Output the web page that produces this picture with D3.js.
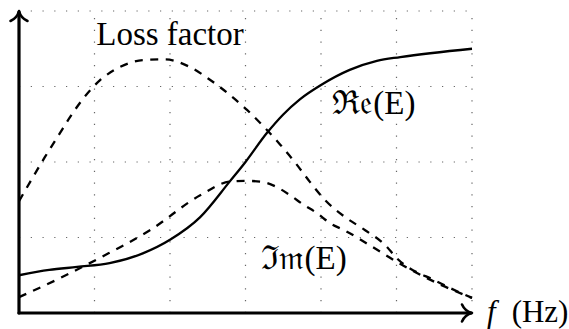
<!DOCTYPE html>
<html>
<head>
<meta charset="utf-8">
<script src="https://cdn.jsdelivr.net/npm/d3@7"></script>
<style>
  html, body { margin: 0; padding: 0; background: #fff; }
  svg { display: block; }
</style>
</head>
<body>
<script>
// Storage modulus, loss modulus and loss factor against frequency (arbitrary units)
const freqRe   = [0, 0.4, 0.77, 1.2, 1.64, 2.0, 2.4, 2.79, 3.0, 3.28, 3.5, 3.72, 4.0, 4.38, 4.74, 5.05, 6.0];
const realPart = [0.5, 0.57, 0.61, 0.66, 0.79, 0.97, 1.27, 1.74, 2.0, 2.38, 2.63, 2.83, 3.02, 3.22, 3.34, 3.39, 3.5];

const freqIm   = [0, 0.54, 1.07, 1.74, 2.4, 2.79, 3.0, 3.2, 3.39, 3.59, 3.76, 3.95, 4.12, 4.32, 4.69, 5.0, 5.53, 6.0];
const imagPart = [0.21, 0.46, 0.73, 1.10, 1.56, 1.74, 1.75, 1.74, 1.68, 1.56, 1.44, 1.32, 1.19, 1.09, 0.87, 0.68, 0.40, 0.2];

const freqLoss   = [0, 0.15, 0.34, 0.54, 0.68, 0.85, 1.07, 1.34, 1.64, 1.93, 2.26, 2.5, 2.79, 3.02, 3.26, 3.46, 3.66, 3.85, 4.05, 4.32, 4.58, 4.85, 5.0, 5.53, 6.0];
const lossFactor = [1.48, 1.74, 2.06, 2.38, 2.60, 2.84, 3.08, 3.26, 3.35, 3.36, 3.26, 3.11, 2.89, 2.69, 2.45, 2.23, 1.99, 1.74, 1.50, 1.27, 1.10, 0.90, 0.73, 0.42, 0.2];

const gridX = [1, 2, 3, 4, 5, 6];
const gridY = [1, 2, 3, 4];

// curve labels, each a run of pieces laid out left to right
const labels = [
  { pieces: ["\u211C\uD835\uDD22", "(", "E", ")"], x: 4.15, y: 2.64 },
  { pieces: ["\u2111\uD835\uDD2A", "(", "E", ")"], x: 3.2, y: 0.58 }
];
const lossLabel = { text: "Loss factor", x: 2.0, y: 3.55 };

const SERIF = "'Liberation Serif'";

const W = 569, H = 329;
const x = d3.scaleLinear().domain([0, 6]).range([19, 472]);
const y = d3.scaleLinear().domain([0, 4]).range([313, 11]);

const svg = d3.select("body").append("svg")
  .attr("width", W).attr("height", H)
  .attr("viewBox", `0 0 ${W} ${H}`);

svg.append("rect").attr("width", W).attr("height", H).attr("fill", "#fff");

// loosely dotted grid
const grid = svg.append("g")
  .attr("stroke", "#666")
  .attr("stroke-width", 1.2)
  .attr("stroke-dasharray", "1.2 10.55")
  .attr("fill", "none");
grid.selectAll("line.h").data(gridY).join("line")
  .attr("class", "h")
  .attr("x1", x(0)).attr("x2", x(6))
  .attr("y1", d => y(d)).attr("y2", d => y(d));
grid.selectAll("line.v").data(gridX).join("line")
  .attr("class", "v")
  .attr("x1", d => x(d)).attr("x2", d => x(d))
  .attr("y1", y(0)).attr("y2", y(4));

const line = (xs, ys, curve) => d3.line()
  .x((d, i) => x(xs[i]))
  .y(d => y(d))
  .curve(curve)(ys);

// loss factor
svg.append("path")
  .attr("d", line(freqLoss, lossFactor, d3.curveMonotoneX))
  .attr("fill", "none").attr("stroke", "#000")
  .attr("stroke-width", 2.3).attr("stroke-dasharray", "8 7.5");

// imaginary part
svg.append("path")
  .attr("d", line(freqIm, imagPart, d3.curveMonotoneX))
  .attr("fill", "none").attr("stroke", "#000")
  .attr("stroke-width", 2.3).attr("stroke-dasharray", "8 7.5");

// real part
svg.append("path")
  .attr("d", line(freqRe, realPart, d3.curveMonotoneX))
  .attr("fill", "none").attr("stroke", "#000")
  .attr("stroke-width", 2.3);

// axes with arrow heads
const axes = svg.append("g").attr("stroke", "#000").attr("fill", "none")
  .attr("stroke-linecap", "round").attr("stroke-linejoin", "round");
axes.append("line")
  .attr("x1", x(0)).attr("y1", y(0)).attr("x2", x(6) - 1).attr("y2", y(0))
  .attr("stroke-width", 3.2);
axes.append("line")
  .attr("x1", x(0)).attr("y1", y(0)).attr("x2", x(0)).attr("y2", y(4) + 1)
  .attr("stroke-width", 3.2);
const head = "M -10,-8.5 C -8,-4 -4,-1 0,0 C -4,1 -8,4 -10,8.5";
axes.append("path").attr("d", head)
  .attr("transform", `translate(${x(6)},${y(0)})`)
  .attr("stroke-width", 2.6);
axes.append("path").attr("d", head)
  .attr("transform", `translate(${x(0)},${y(4)}) rotate(-90)`)
  .attr("stroke-width", 2.6);

// lays out text pieces one after another, each in its own element
function textRun(x0, y0, pieces, size, italicIdx = [], gaps = {}) {
  let cx = x0;
  pieces.forEach((p, i) => {
    cx += gaps[i] || 0;
    const t = svg.append("text")
      .attr("x", cx).attr("y", y0)
      .style("font-family", SERIF)
      .style("font-size", size + "px")
      .style("font-style", italicIdx.includes(i) ? "italic" : "normal")
      .text(p);
    cx += t.node().getComputedTextLength();
  });
}

svg.append("text")
  .attr("x", x(lossLabel.x)).attr("y", y(lossLabel.y))
  .attr("text-anchor", "middle")
  .style("font-family", SERIF)
  .style("font-size", "33px")
  .text(lossLabel.text);

labels.forEach(l => textRun(x(l.x), y(l.y), l.pieces, 33, [], { 1: 1 }));

// axis label
textRun(x(6) + 15, y(0) + 9, ["f", "(", "Hz", ")"], 31, [0], { 1: 16 });
</script>
</body>
</html>
